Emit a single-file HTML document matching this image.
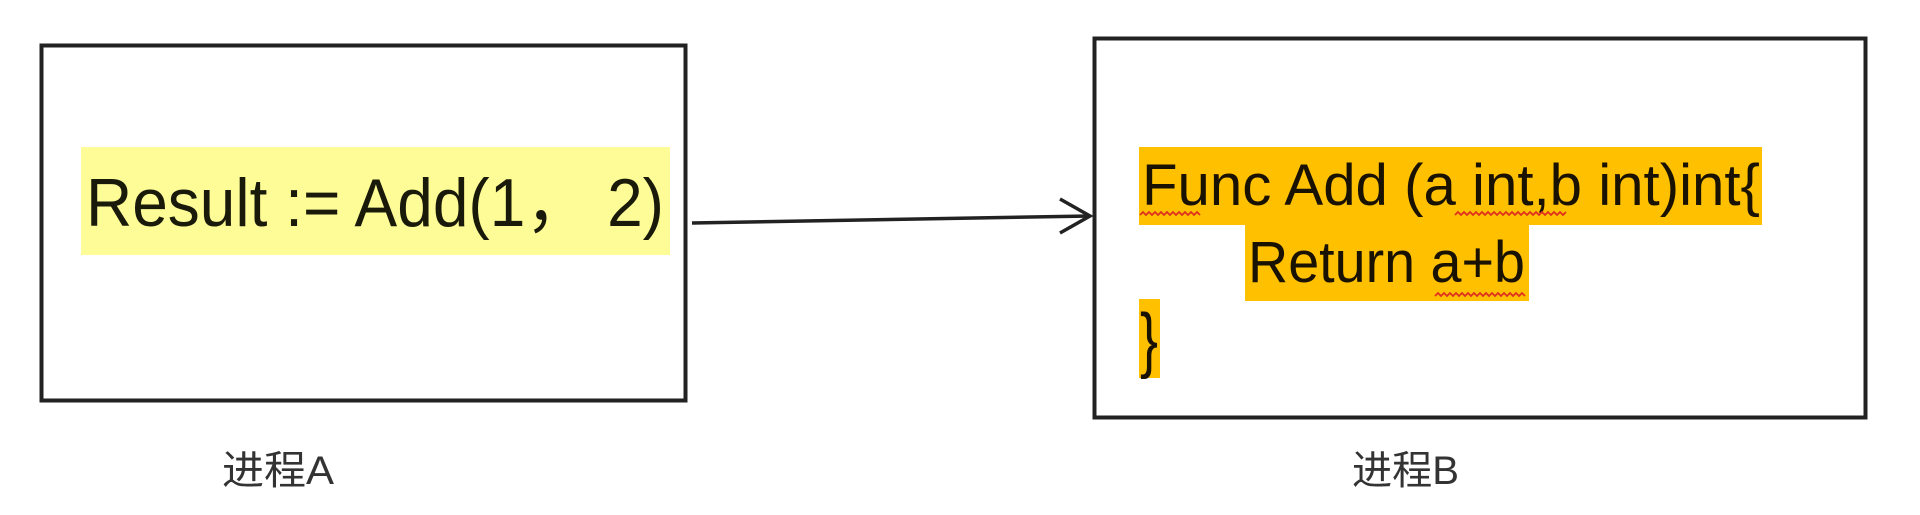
<!DOCTYPE html>
<html><head><meta charset="utf-8"><style>html,body{margin:0;padding:0;background:#fff;width:1920px;height:515px;overflow:hidden}</style></head>
<body>
<svg width="1920" height="515" viewBox="0 0 1920 515" xmlns="http://www.w3.org/2000/svg">
<rect x="0" y="0" width="1920" height="515" fill="#fff"/>
<rect x="41.5" y="45.5" width="644" height="355" fill="none" stroke="#222" stroke-width="4"/>
<rect x="81" y="147" width="589" height="108" fill="#fdfc96"/>
<text x="86" y="226" font-family="Liberation Sans, sans-serif" font-size="68" fill="#1a1a0a" textLength="578" lengthAdjust="spacingAndGlyphs">Result := Add(1， 2)</text>
<line x1="692" y1="223" x2="1090" y2="216" stroke="#222" stroke-width="3.5"/>
<polyline points="1060,199 1090,216 1060,233" fill="none" stroke="#222" stroke-width="3.5"/>
<rect x="1094.5" y="38.5" width="771" height="379" fill="none" stroke="#222" stroke-width="4"/>
<rect x="1139" y="147" width="623" height="78" fill="#ffc000"/>
<rect x="1245" y="225" width="284" height="76" fill="#ffc000"/>
<rect x="1139" y="299" width="21" height="79" fill="#ffc000"/>
<g font-family="Liberation Sans, sans-serif" font-size="58" fill="#1a1200">
<text x="1142" y="205" textLength="618" lengthAdjust="spacingAndGlyphs">Func Add (a int,b int)int{</text>
<text x="1248" y="282" textLength="277" lengthAdjust="spacingAndGlyphs">Return a+b</text>
<text x="1140" y="364" font-size="72" textLength="18" lengthAdjust="spacingAndGlyphs">}</text>
</g>
<g fill="none" stroke="#e03020" stroke-width="1.8">
<polyline points="1140,215 1143,212 1146,215 1149,212 1152,215 1155,212 1158,215 1161,212 1164,215 1167,212 1170,215 1173,212 1176,215 1179,212 1182,215 1185,212 1188,215 1191,212 1194,215 1197,212 1200,215"/>
<polyline points="1455,215 1458,212 1461,215 1464,212 1467,215 1470,212 1473,215 1476,212 1479,215 1482,212 1485,215 1488,212 1491,215 1494,212 1497,215 1500,212 1503,215 1506,212 1509,215 1512,212 1515,215 1518,212 1521,215 1524,212 1527,215 1530,212 1533,215 1536,212 1539,215 1542,212 1545,215 1548,212 1551,215 1554,212 1557,215 1560,212 1563,215 1566,212"/>
<polyline points="1435,296 1438,293 1441,296 1444,293 1447,296 1450,293 1453,296 1456,293 1459,296 1462,293 1465,296 1468,293 1471,296 1474,293 1477,296 1480,293 1483,296 1486,293 1489,296 1492,293 1495,296 1498,293 1501,296 1504,293 1507,296 1510,293 1513,296 1516,293 1519,296 1522,293 1525,296"/>
</g>
<g font-family="Liberation Sans, Noto Sans CJK SC, sans-serif" font-size="40" fill="#333">
<text x="222" y="484" textLength="112" lengthAdjust="spacingAndGlyphs">进程A</text>
<text x="1352" y="484" textLength="107" lengthAdjust="spacingAndGlyphs">进程B</text>
</g>
</svg>
</body></html>
